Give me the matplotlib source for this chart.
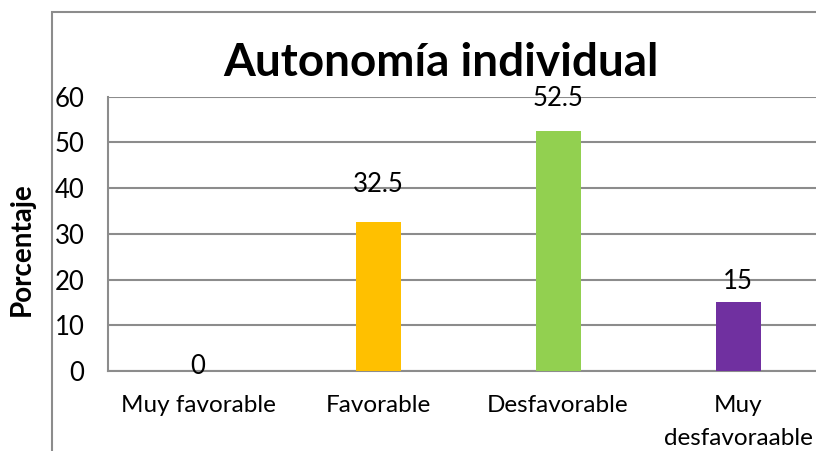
import matplotlib
matplotlib.use("Agg")
import matplotlib.pyplot as plt
from matplotlib.patches import Rectangle

# Data
categories = ["Muy favorable", "Favorable", "Desfavorable", "Muy\ndesfavoraable"]
values = [0, 32.5, 52.5, 15]
bar_colors = ["#4472C4", "#FFC000", "#92D050", "#7030A0"]
yticks = [0, 10, 20, 30, 40, 50, 60]
# vertical offset of each value label above its bar top (pixels)
label_offsets = [-8, 25, 20, 8]

W, H = 816, 451
plt.rcParams["font.family"] = ["Lato", "DejaVu Sans"]

fig = plt.figure(figsize=(W / 100, H / 100), dpi=100)
grey = "#8c8c8c"

# chart area border
fig.patches.append(Rectangle((52 / W, -0.1), 1.2, (H - 12) / H + 0.1,
                             transform=fig.transFigure, fill=False,
                             edgecolor=grey, linewidth=1.5, zorder=0))

left, right = 108 / W, 828 / W
bottom, top = (H - 371) / H, (H - 96.6) / H
ax = fig.add_axes([left, bottom, right - left, top - bottom])

x = list(range(len(categories)))
bars = ax.bar(x, values, width=0.25, color=bar_colors, zorder=3)

ax.set_xlim(-0.5, len(categories) - 0.5)
ax.set_ylim(0, 60)
ax.set_yticks(yticks)
ax.set_yticklabels([str(t) for t in yticks], fontsize=18.5)
ax.set_xticks(x)
ax.set_xticklabels(categories, fontsize=17.5, linespacing=1.7)
ax.tick_params(axis="y", length=0, pad=17)
ax.tick_params(axis="x", length=0, pad=17)

ax.yaxis.grid(True, color=grey, linewidth=1.5, zorder=0)
ax.set_axisbelow(True)
for s in ["top", "right"]:
    ax.spines[s].set_visible(False)
for s in ["left", "bottom"]:
    ax.spines[s].set_color(grey)
    ax.spines[s].set_linewidth(1.5)

for xi, v, off in zip(x, values, label_offsets):
    ax.annotate(f"{v:g}", xy=(xi, v), xytext=(0, off * 72 / 100),
                textcoords="offset points", ha="center", va="bottom",
                fontsize=18.5, zorder=4)

fig.text(441 / W, (H - 63) / H, "Autonomía individual", ha="center",
         va="center", fontsize=33, fontweight="bold")
fig.text(22 / W, (H - 249) / H, "Porcentaje", ha="center", va="center",
         rotation=90, fontsize=20, fontweight="bold")

fig.savefig("out.png", dpi=100)
